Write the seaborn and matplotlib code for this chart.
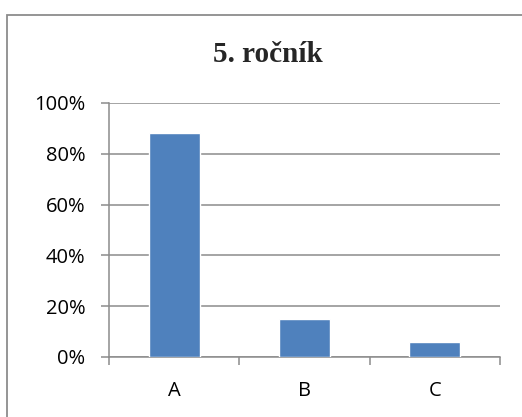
import pandas as pd
import matplotlib.pyplot as plt
import matplotlib.patches as mpatches
from matplotlib.ticker import FixedLocator, PercentFormatter
import seaborn as sns

# Data
categories = ['A', 'B', 'C']
shares = [0.88, 0.15, 0.06]
y_ticks = [0, 0.2, 0.4, 0.6, 0.8, 1.0]

sns.set_theme(style="white")
plt.rcParams['font.family'] = ['Open Sans', 'DejaVu Sans']

df = pd.DataFrame({'kategorie': categories, 'podil': shares})

fig = plt.figure(figsize=(5.22, 4.17), dpi=100)
fig.patch.set_facecolor('white')
ax = fig.add_axes([109 / 522, 1 - 357 / 417, 391 / 522, 254 / 417])

sns.barplot(data=df, x='kategorie', y='podil', color='#4F81BD',
            saturation=1, width=0.39, ax=ax, zorder=3)

grid_col = '#8C8C8C'
ax.set_ylim(0, 1.0)
ax.set_xlim(-0.5, 2.5)
ax.set_yticks(y_ticks)
ax.yaxis.set_major_formatter(PercentFormatter(1.0, decimals=0))
ax.yaxis.grid(True, color=grid_col, linewidth=1.1, zorder=0)
ax.set_axisbelow(True)

# x ticks at category boundaries, labels at centres
ax.xaxis.set_major_locator(FixedLocator([-0.5, 0.5, 1.5, 2.5]))
ax.xaxis.set_minor_locator(FixedLocator([0, 1, 2]))
ax.set_xticklabels([], minor=False)
ax.set_xticklabels(categories, minor=True)
ax.tick_params(axis='x', which='major', length=6, width=1.1, color=grid_col, direction='out', bottom=True)
ax.tick_params(axis='x', which='minor', length=0, pad=17, labelsize=14.5, colors='black', bottom=True)
ax.tick_params(axis='y', length=6, width=1.1, color=grid_col, direction='out', left=True,
               pad=11, labelsize=14.5, labelcolor='black')

for side in ['top', 'right']:
    ax.spines[side].set_visible(False)
for side in ['left', 'bottom']:
    ax.spines[side].set_color(grid_col)
    ax.spines[side].set_linewidth(1.1)

ax.set_xlabel('')
ax.set_ylabel('')

fig.text(268 / 522, 1 - 55 / 417, '5. ročník', ha='center', va='center',
         fontsize=21, fontweight='bold', family='Liberation Serif')

# chart frame (cropped at right and bottom)
frame = mpatches.Rectangle((7 / 522, -0.1), 1.2, 1 - 15 / 417 + 0.1,
                           transform=fig.transFigure, fill=False,
                           edgecolor='#8C8C8C', linewidth=1.3, clip_on=False)
fig.patches.append(frame)

fig.savefig('out.png', dpi=100)
